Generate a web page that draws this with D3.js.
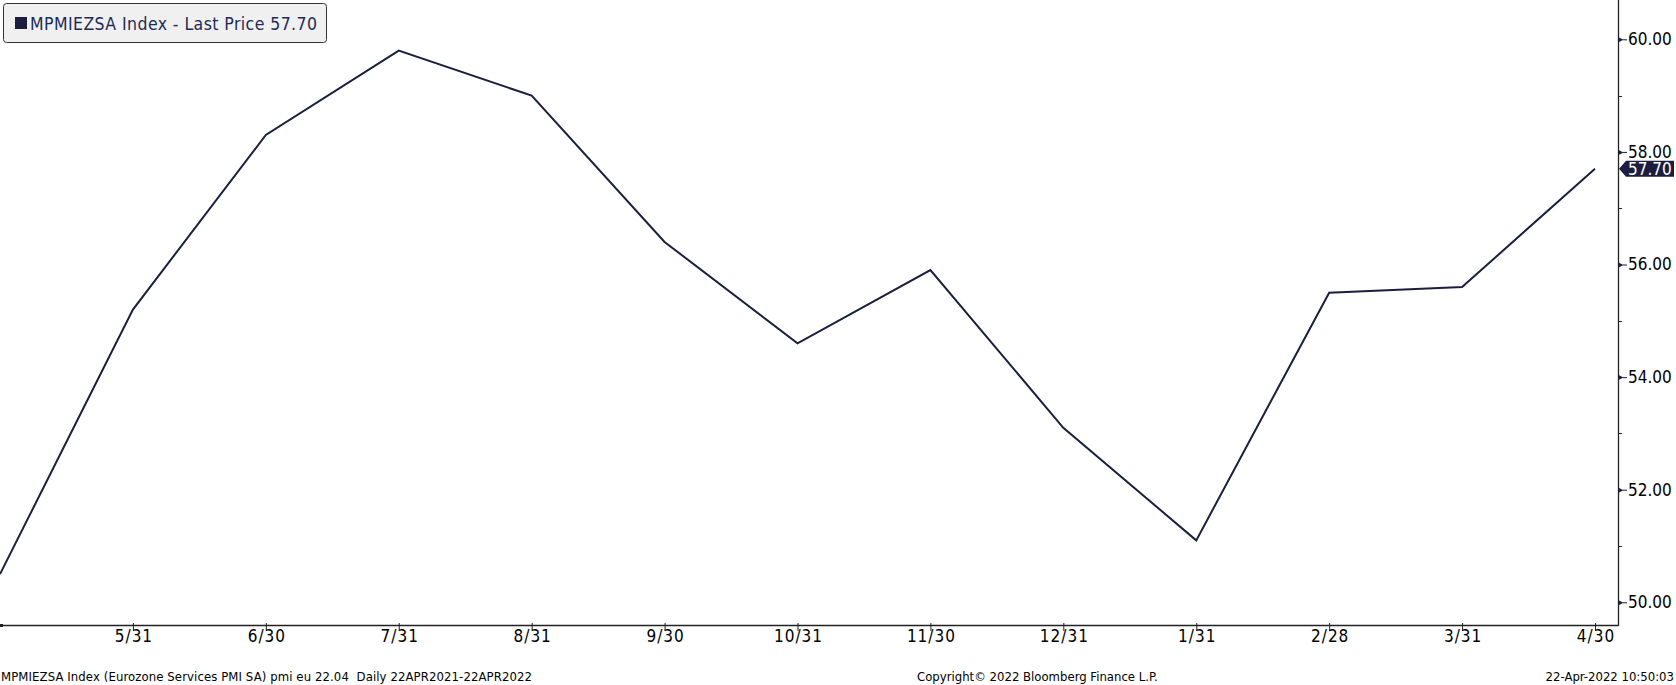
<!DOCTYPE html>
<html>
<head>
<meta charset="utf-8">
<script src="https://cdn.jsdelivr.net/npm/d3@7"></script>
<style>
  html, body { margin: 0; padding: 0; background: #ffffff; }
  svg { display: block; }
  text { font-family: "DejaVu Sans Condensed", "DejaVu Sans", sans-serif; font-stretch: condensed; }
</style>
</head>
<body>
<svg id="chart" width="1676" height="685"></svg>
<script>
// ---- data ----
const months = ["2021-04","2021-05","2021-06","2021-07","2021-08","2021-09","2021-10",
                "2021-11","2021-12","2022-01","2022-02","2022-03","2022-04"];
const values = [50.5, 55.2, 58.3, 59.8, 59.0, 56.4, 54.6, 55.9, 53.1, 51.1, 55.5, 55.6, 57.7];
const xTickLabels = ["", "5/31","6/30","7/31","8/31","9/30","10/31","11/30","12/31","1/31","2/28","3/31","4/30"];
const yMajorTicks = [50, 52, 54, 56, 58, 60];
const yMinorTicks = [51, 53, 55, 57, 59];
const legendText = "MPMIEZSA Index - Last Price 57.70";
const lastLabel = "57.70";
const footerLeft = "MPMIEZSA Index (Eurozone Services PMI SA) pmi eu 22.04  Daily 22APR2021-22APR2022";
const footerMid = "Copyright\u00A9 2022 Bloomberg Finance L.P.";
const footerRight = "22-Apr-2022 10:50:03";

// ---- layout ----
const plotRight = 1618;
const plotBottom = 625;
const navy = "#1b1f3d";

const svg = d3.select("#chart");

const x = d3.scalePoint().domain(months).range([0, 1595]).padding(0);
const y = d3.scaleLinear().domain([49.597, 60.698]).range([plotBottom, 0]);

// line
const line = d3.line()
  .x((d, i) => x(months[i]))
  .y(d => y(d));

svg.append("path")
  .datum(values)
  .attr("d", line)
  .attr("fill", "none")
  .attr("stroke", navy)
  .attr("stroke-width", 2)
  .attr("stroke-linejoin", "miter");

// bottom axis
const xAxis = d3.axisBottom(x)
  .tickValues(months.slice(1))
  .tickFormat((d) => xTickLabels[months.indexOf(d)])
  .tickSize(6)
  .tickSizeOuter(0);
const gx = svg.append("g").attr("transform", `translate(0,${plotBottom})`).call(xAxis);
gx.select(".domain").remove();
gx.selectAll(".tick line").attr("stroke", "#222").attr("stroke-width", 1).attr("y1", -2).attr("y2", 6);
gx.selectAll(".tick text")
  .attr("fill", "#000")
  .attr("font-size", 17)
  .attr("letter-spacing", 1)
  .attr("dy", null)
  .attr("x", 0.5)
  .attr("y", 17);

svg.append("line")
  .attr("x1", 0).attr("x2", plotRight)
  .attr("y1", plotBottom + 0.5).attr("y2", plotBottom + 0.5)
  .attr("stroke", "#222").attr("stroke-width", 1.3);
svg.append("rect").attr("x", 0).attr("y", plotBottom - 1).attr("width", 3).attr("height", 3).attr("fill", "#222");

// right axis
svg.append("line")
  .attr("x1", plotRight + 0.5).attr("x2", plotRight + 0.5)
  .attr("y1", 0).attr("y2", plotBottom + 1)
  .attr("stroke", "#222").attr("stroke-width", 1.3);

const yAxis = d3.axisRight(y).tickValues(yMajorTicks).tickFormat(d3.format(".2f")).tickSize(0).tickPadding(10);
const gy = svg.append("g").attr("transform", `translate(${plotRight},0)`).call(yAxis);
gy.select(".domain").remove();
gy.selectAll(".tick text").attr("fill", "#000").attr("font-size", 17).attr("x", 10);
gy.selectAll(".tick").append("path")
  .attr("d", "M0.5,-2.5 L5.5,0 L0.5,2.5 Z")
  .attr("fill", navy);
gy.selectAll(".tick").append("line")
  .attr("x1", 5).attr("x2", 9).attr("y1", 0).attr("y2", 0)
  .attr("stroke", navy).attr("stroke-width", 1);

svg.append("g").selectAll("line.minor")
  .data(yMinorTicks).join("line")
  .attr("x1", plotRight).attr("x2", plotRight + 4)
  .attr("y1", d => Math.round(y(d)) + 0.5).attr("y2", d => Math.round(y(d)) + 0.5)
  .attr("stroke", "#222").attr("stroke-width", 1);

// last price tag
const ly = y(values[values.length - 1]);
const tag = svg.append("g").attr("transform", `translate(${plotRight + 1},${ly})`);
tag.append("path")
  .attr("d", "M0,0 L7,-8 L55,-8 L55,8 L7,8 Z")
  .attr("fill", navy);
tag.append("text")
  .attr("x", 9).attr("y", 6)
  .attr("fill", "#ffffff")
  .attr("font-size", 17)
  .text(lastLabel);

// legend
const lg = svg.append("g");
lg.append("rect")
  .attr("x", 3.5).attr("y", 3.5).attr("width", 323).attr("height", 39).attr("rx", 3)
  .attr("fill", "#f0f0f0").attr("stroke", "#333").attr("stroke-width", 1);
lg.append("rect")
  .attr("x", 15).attr("y", 17).attr("width", 12).attr("height", 12)
  .attr("fill", navy);
lg.append("text")
  .attr("x", 30).attr("y", 29.5)
  .attr("fill", "#1c2a55")
  .attr("font-size", 17.5)
  .attr("textLength", 287)
  .attr("lengthAdjust", "spacing")
  .text(legendText);

// footer
const footer = svg.append("g").attr("font-size", 13).attr("fill", "#000");
footer.append("text").attr("x", 1).attr("y", 681)
  .style("white-space", "pre").attr("xml:space", "preserve")
  .attr("textLength", 531).attr("lengthAdjust", "spacing")
  .text(footerLeft);
footer.append("text").attr("x", 917).attr("y", 681).text(footerMid);
footer.append("text").attr("x", 1674).attr("y", 681).attr("text-anchor", "end").text(footerRight);
</script>
</body>
</html>
